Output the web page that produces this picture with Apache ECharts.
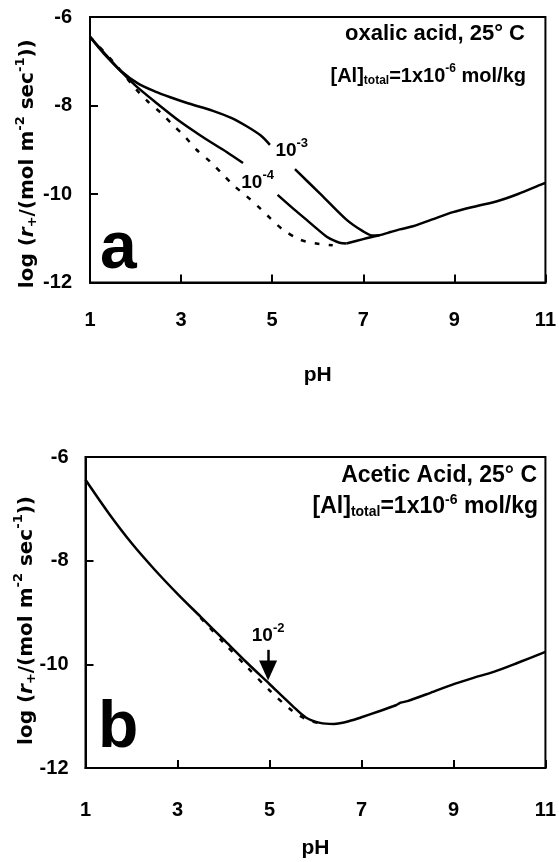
<!DOCTYPE html>
<html><head><meta charset="utf-8">
<script src="https://cdn.jsdelivr.net/npm/echarts@6/dist/echarts.min.js"></script>
<style>html,body{margin:0;padding:0;background:#fff}#c{width:559px;height:862px}</style>
</head><body><div id="c"></div>
<script>
// ---------- axis ranges ----------
const xMin = 1, xMax = 11, xStep = 2;
const yMin = -12, yMax = -6, yStep = 2;

// ---------- Panel a: oxalic acid ----------
// 10^-3 oxalate curve (null = gap under label)
const aPH_1e3  = [1, 1.3, 1.68, 2.05, 2.42, 2.78, 3.15, 3.70, 4.10, 4.44, 4.75, 4.95, null, 5.50, 6.04, 6.63, 6.99, 7.21, 7.36];
const aLog_1e3 = [-6.45, -6.82, -7.22, -7.50, -7.68, -7.82, -7.95, -8.12, -8.28, -8.47, -8.68, -8.89, null, -9.44, -9.98, -10.58, -10.84, -10.94, -10.93];
// 10^-4 oxalate curve
const aPH_1e4  = [1, 1.3, 1.68, 2.0, 2.42, 3.0, 3.4, 3.70, 4.0, 4.36, null, 5.12, 5.45, 5.75, 6.0, 6.19, 6.35, 6.48, 6.63];
const aLog_1e4 = [-6.45, -6.80, -7.23, -7.55, -7.91, -8.38, -8.66, -8.86, -9.05, -9.30, null, -10.02, -10.32, -10.58, -10.80, -10.96, -11.05, -11.10, -11.12];
// common high-pH branch
const aPH_base  = [6.63, 7.0, 7.36, 7.6, 7.8, 8.09, 8.5, 8.97, 9.5, 9.92, 10.4, 10.94, 11];
const aLog_base = [-11.12, -11.02, -10.93, -10.86, -10.80, -10.73, -10.58, -10.41, -10.27, -10.17, -10.0, -9.77, -9.75];
// dashed: no ligand
const aPH_dash  = [1, 1.5, 2.0, 2.27, 2.56, 2.82, 3.08, 3.34, 3.63, 3.92, 4.18, 4.44, 4.73, 4.95, 5.23, 5.61, 5.97, 6.33];
const aLog_dash = [-6.45, -7.0, -7.62, -7.91, -8.17, -8.44, -8.70, -9.0, -9.26, -9.56, -9.83, -10.05, -10.32, -10.54, -10.80, -11.03, -11.12, -11.16];
// curve labels
const aLabPH   = [5.43, 4.68];
const aLabLog  = [-9.02, -9.74];
const aLabExp  = ['-3', '-4'];

// ---------- Panel b: acetic acid ----------
const bPH_solid  = [1, 1.5, 2.0, 2.5, 3.0, 3.5, 4.0, 4.5, 5.0, 5.5, 5.8, 6.1, 6.4, 6.8, 7.0, 7.4, 7.75, 7.85, 8.0, 8.5, 8.95, 9.4, 9.89, 10.4, 11];
const bLog_solid = [-6.44, -7.08, -7.66, -8.17, -8.64, -9.08, -9.52, -9.96, -10.38, -10.80, -11.03, -11.13, -11.15, -11.08, -11.02, -10.90, -10.79, -10.74, -10.71, -10.55, -10.40, -10.27, -10.14, -9.97, -9.76];
const bPH_dash  = [3.5, 4.0, 4.5, 5.0, 5.5, 5.8, 6.1];
const bLog_dash = [-9.10, -9.58, -10.04, -10.50, -10.90, -11.06, -11.14];
const bLabPH  = [4.97];
const bLabLog = [-9.44];
const bLabExp = ['-2'];
const bArrowPH = 4.97, bArrowFrom = -9.72, bArrowTo = -10.12;

// ---------- helpers ----------
const FONT = 'Liberation Sans, Arial, sans-serif';
const WIDE = 'DejaVu Sans, sans-serif';
function pairs(xs, ys){ return xs.map((x,i)=> (x===null||ys[i]===null) ? '-' : [x, ys[i]]); }
const richName = {
  n:   {fontFamily: WIDE, fontSize: 20, fontWeight: 'bold', color: '#000'},
  i:   {fontFamily: WIDE, fontSize: 20, fontWeight: 'bold', fontStyle: 'italic', color: '#000'},
  sub: {fontFamily: WIDE, fontSize: 13, fontWeight: 'bold', color: '#000', padding: [10,0,0,0]},
  sup: {fontFamily: WIDE, fontSize: 13, fontWeight: 'bold', color: '#000', padding: [0,0,15,0]}
};
const yName = '{n|log (}{i|r}{sub|+}{n|/(mol m}{sup|-2}{n| sec}{sup|-1}{n|))}';

function xAxisCfg(gi, gap, margin){
  return {
    type: 'value', gridIndex: gi, min: xMin, max: xMax, interval: xStep,
    name: 'pH', nameLocation: 'middle', nameGap: gap, nameMoveOverlap: false,
    nameTextStyle: {fontFamily: FONT, fontSize: 21, fontWeight: 'bold', color: '#000'},
    axisLine: {show: true, lineStyle: {color: '#000', width: 2}},
    axisTick: {show: true, inside: true, length: 8, lineStyle: {color: '#000', width: 2}},
    axisLabel: {margin: margin, fontFamily: FONT, fontSize: 20, fontWeight: 'bold', color: '#000'},
    splitLine: {show: false}
  };
}
function yAxisCfg(gi, gap, margin, shift){
  return {
    type: 'value', gridIndex: gi, min: yMin, max: yMax, interval: yStep,
    name: yName, nameLocation: 'middle', nameGap: gap, nameRotate: 90, nameMoveOverlap: false,
    nameTextStyle: {fontFamily: WIDE, fontSize: 20, fontWeight: 'bold', color: '#000', rich: richName, padding: [0, shift, 0, 0]},
    axisLine: {show: true, lineStyle: {color: '#000', width: 2}},
    axisTick: {show: true, inside: true, length: 8, lineStyle: {color: '#000', width: 2}},
    axisLabel: {margin: margin, fontFamily: FONT, fontSize: 20, fontWeight: 'bold', color: '#000'},
    splitLine: {show: false}
  };
}
function lineSeries(gi, data, dashed){
  return {
    type: 'line', xAxisIndex: gi, yAxisIndex: gi, data: data, smooth: 0.3,
    showSymbol: false, symbol: 'none', connectNulls: false, silent: true,
    lineStyle: {color: '#000', width: 2.5, type: dashed ? [5, 9] : 'solid'}
  };
}
function labelSeries(gi, xs, ys, exps, extra){
  const s = {
    type: 'scatter', xAxisIndex: gi, yAxisIndex: gi, symbolSize: 0, silent: true,
    itemStyle: {opacity: 1, color: '#000'},
    data: xs.map((x,i)=>({value:[x, ys[i]], label:{formatter: '{b|10}{s|' + exps[i] + '}'}})),
    label: {show: true, position: 'inside', color: '#000', opacity: 1,
      rich: {
        b: {fontFamily: FONT, fontSize: 19, fontWeight: 'bold', color: '#000'},
        s: {fontFamily: FONT, fontSize: 13, fontWeight: 'bold', color: '#000', padding: [0,0,14,0]}
      }}
  };
  return Object.assign(s, extra || {});
}

const titleStyle = (size, sub) => ({fontFamily: FONT, fontSize: size, fontWeight: 'bold', color: '#000',
  rich: {
    sub: {fontFamily: FONT, fontSize: sub, fontWeight: 'bold', color: '#000', padding: [10,0,0,0]},
    sup: {fontFamily: FONT, fontSize: sub, fontWeight: 'bold', color: '#000', padding: [0,0,14,0]}
  }});

const chart = echarts.init(document.getElementById('c'), null, {renderer: 'canvas'});
chart.setOption({
  animation: false,
  backgroundColor: '#fff',
  title: [
    {text: 'oxalic acid, 25° C', right: 34, top: 23, padding: 0, textStyle: titleStyle(22, 13)},
    {text: '[Al]{sub|total}=1x10{sup|-6} mol/kg', right: 33, top: 63, padding: 0, textStyle: titleStyle(20, 12)},
    {text: 'Acetic Acid, 25° C', right: 22, top: 464, padding: 0, textStyle: titleStyle(23, 13)},
    {text: '[Al]{sub|total}=1x10{sup|-6} mol/kg', right: 21, top: 493, padding: 0, textStyle: titleStyle(23, 14)},
    {text: 'a', left: 100, top: 217, padding: 0, textStyle: {fontFamily: FONT, fontSize: 66, fontWeight: 'bold', color: '#000', lineHeight: 66}},
    {text: 'b', left: 98, top: 696, padding: 0, textStyle: {fontFamily: FONT, fontSize: 66, fontWeight: 'bold', color: '#000', lineHeight: 66}}
  ],
  grid: [
    {left: 90, top: 17, width: 456, height: 265.5, show: true, borderColor: '#000', borderWidth: 2, containLabel: false},
    {left: 85.5, top: 457, width: 462.5, height: 311, show: true, borderColor: '#000', borderWidth: 2, containLabel: false}
  ],
  xAxis: [xAxisCfg(0, 82, 28), xAxisCfg(1, 70, 32)],
  yAxis: [yAxisCfg(0, 48, 18, 28), yAxisCfg(1, 45, 17, 16)],
  series: [
    lineSeries(0, pairs(aPH_dash, aLog_dash), true),
    lineSeries(0, pairs(aPH_1e4, aLog_1e4), false),
    lineSeries(0, pairs(aPH_1e3, aLog_1e3), false),
    lineSeries(0, pairs(aPH_base, aLog_base), false),
    labelSeries(0, aLabPH, aLabLog, aLabExp),
    lineSeries(1, pairs(bPH_dash, bLog_dash), true),
    lineSeries(1, pairs(bPH_solid, bLog_solid), false),
    labelSeries(1, bLabPH, bLabLog, bLabExp, {
      markLine: {
        silent: true, symbol: ['none', 'triangle'], symbolSize: [18, 20],
        lineStyle: {color: '#000', width: 2.5, type: 'solid'},
        label: {show: false},
        data: [[{coord: [bArrowPH, bArrowFrom]}, {coord: [bArrowPH, bArrowTo]}]]
      }
    })
  ]
});
</script>
</body></html>
